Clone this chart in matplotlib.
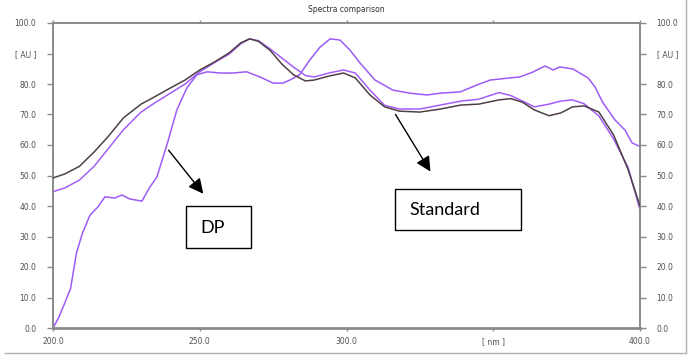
import matplotlib
matplotlib.use("Agg")
import matplotlib.pyplot as plt
from matplotlib.patches import Rectangle
from matplotlib.lines import Line2D

# reference spectrum (dark trace)
ref_nm = [200, 204, 209, 214, 219, 224, 230, 235, 240, 245, 250, 255, 260, 264, 267,
          270, 274, 278, 282, 286, 289, 294, 299, 303, 308, 313, 318, 325, 332, 339,
          345, 352, 356, 360, 364, 369, 373, 377, 381, 386, 391, 396, 400]
ref_au = [49.2, 50.5, 53, 57.7, 63, 68.9, 73.4, 76, 78.7, 81.3, 84.6, 87.2, 90.2, 93.5, 94.8,
          94, 91, 86.5, 83, 81, 81.3, 82.6, 83.6, 82, 76.4, 72.5, 71.1, 70.8, 71.8, 73.1,
          73.4, 74.8, 75.2, 74, 71.5, 69.6, 70.5, 72.5, 72.8, 70.8, 63.3, 51.8, 40]

# standard spectrum
std_nm = ref_nm
std_au = [44.7, 45.9, 48.5, 53, 59, 65, 70.8, 74, 77, 80, 84, 87, 89.8, 93.2, 94.8,
          94.2, 91.5, 88.5, 85.5, 82.8, 82.3, 83.6, 84.6, 83.6, 78, 73, 71.8, 71.8, 73.1, 74.4,
          75, 77.2, 76.2, 74.4, 72.5, 73.4, 74.4, 74.8, 73.5, 69.5, 62, 52.5, 38.7]

# DP spectrum
dp_nm = [200, 202, 204, 206, 208, 210, 212.6, 215.3, 217.7, 221, 223.5, 226.2, 230.3, 233,
         235.4, 238.8, 242.2, 245.6, 249, 252.5, 257, 261.3, 266, 270.5, 275, 278.4, 280.7,
         284, 287.6, 291, 294.4, 297.8, 301.2, 304.6, 309.7, 315.8, 321.6, 327.4, 332, 338.7,
         344.5, 349, 355.7, 359, 363.5, 367.6, 370.4, 372.7, 377.2, 382.3, 384.7, 387.4,
         391.5, 394.9, 397.3, 400]
dp_au = [0, 3.5, 8.2, 13, 24.6, 31, 37, 39.7, 43, 42.6, 43.6, 42.3, 41.6, 46.2,
         49.5, 60, 71.5, 78.7, 83, 84, 83.6, 83.6, 84, 82.3, 80.3, 80.3, 81.3,
         83, 88, 92.1, 94.8, 94.4, 91.1, 86.9, 81.3, 78, 77, 76.4, 77, 77.4,
         79.7, 81.3, 82, 82.3, 83.9, 85.9, 84.6, 85.6, 84.9, 82, 79, 73.8,
         68.2, 64.9, 60.7, 59.5]

x_ticks = [200, 250, 300, 350, 400]
x_labels = ["200.0", "250.0", "300.0", "[ nm ]", "400.0"]
y_ticks = [0, 10, 20, 30, 40, 50, 60, 70, 80, 90, 100]
y_labels = ["0.0", "10.0", "20.0", "30.0", "40.0", "50.0", "60.0", "70.0", "80.0", "[ AU ]", "100.0"]

fig = plt.figure(figsize=(6.92, 3.6), dpi=100)
ax = fig.add_axes([53 / 692, 32 / 360, 587 / 692, 305 / 360])

ax.plot(ref_nm, ref_au, color="#4f4045", linewidth=1.1, zorder=3)
ax.plot(std_nm, std_au, color="#a45ef8", linewidth=1.1, zorder=2)
ax.plot(dp_nm, dp_au, color="#9d5bf7", linewidth=1.1, zorder=2)

ax.set_xlim(200, 400)
ax.set_ylim(0, 100)

grey = "#8a8a8a"
for side in ["left", "right", "top", "bottom"]:
    ax.spines[side].set_color(grey)
    ax.spines[side].set_linewidth(1.4)
ax.spines["bottom"].set_linewidth(2)

ax.set_xticks(x_ticks)
ax.set_xticklabels(x_labels)
ax.set_yticks(y_ticks)
ax.set_yticklabels(y_labels)
ax.tick_params(axis="y", which="both", left=True, right=True, labelleft=True, labelright=True,
               direction="out", length=4, width=1, color=grey, labelsize=5.5,
               labelcolor="#505050", pad=8)
ax.tick_params(axis="x", which="both", bottom=True, top=True, direction="out", length=2.5,
               width=1, color=grey, labelsize=5.5, labelcolor="#505050", pad=4)

ax.set_title("Spectra comparison", fontsize=5.5, color="#303030", pad=8)

# arrows + text boxes
ax.annotate("", xy=(251.8, 43.3), xytext=(238.8, 59),
            arrowprops=dict(arrowstyle="-|>,head_length=0.9,head_width=0.45", color="black", lw=1),
            annotation_clip=False)
ax.annotate("", xy=(329.1, 50.5), xytext=(316.2, 70.8),
            arrowprops=dict(arrowstyle="-|>,head_length=0.9,head_width=0.45", color="black", lw=1),
            annotation_clip=False)

ax.add_patch(Rectangle((245.3, 26.2), 22.2, 13.8, fill=False, edgecolor="black", lw=1, clip_on=False))
ax.text(250.1, 32.8, "DP", fontsize=13, family="Lato", va="center", ha="left")
ax.add_patch(Rectangle((316.5, 32.1), 43.0, 13.5, fill=False, edgecolor="black", lw=1, clip_on=False))
ax.text(321.6, 38.8, "Standard", fontsize=13, family="Lato", va="center", ha="left")

# outer frame edges (right and bottom)
fig.add_artist(Line2D([5 / 692, 686 / 692], [7 / 360, 7 / 360], color="#b0b0b0", lw=1))
fig.add_artist(Line2D([686 / 692, 686 / 692], [7 / 360, 1.0], color="#b0b0b0", lw=1))

fig.savefig("out.png", dpi=100)
